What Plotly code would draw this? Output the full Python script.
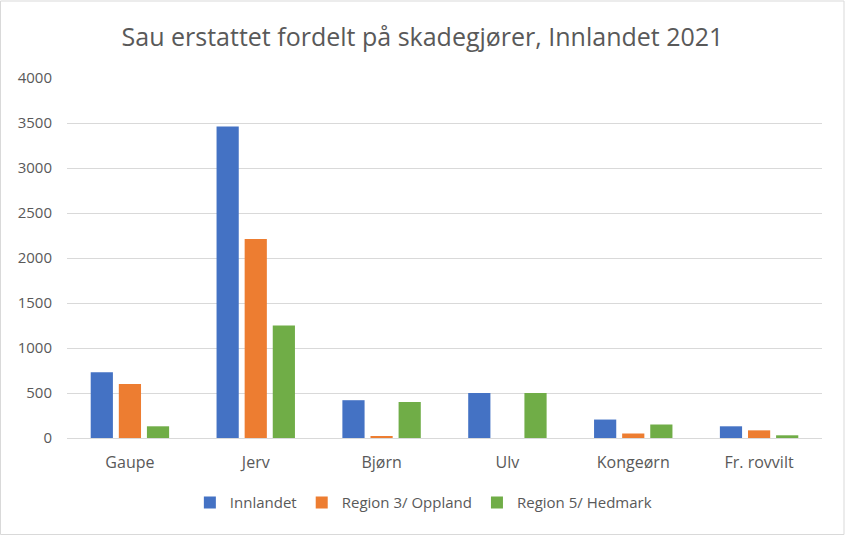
import plotly.graph_objects as go

categories = ["Gaupe", "Jerv", "Bjørn", "Ulv", "Kongeørn", "Fr. rovvilt"]
innlandet = [730, 3460, 420, 500, 205, 130]
oppland = [600, 2210, 20, 0, 50, 85]
hedmark = [130, 1250, 400, 500, 150, 30]
y_ticks = [0, 500, 1000, 1500, 2000, 2500, 3000, 3500, 4000]

series = [
    ("Innlandet", innlandet, "#4472C4"),
    ("Region 3/ Oppland", oppland, "#ED7D31"),
    ("Region 5/ Hedmark", hedmark, "#70AD47"),
]

fig = go.Figure()
for name, vals, color in series:
    fig.add_trace(go.Bar(x=categories, y=vals, name=name, marker=dict(color=color, line=dict(width=0))))

fig.update_layout(
    width=845, height=535,
    paper_bgcolor="white", plot_bgcolor="white",
    font=dict(family="Open Sans, Liberation Sans, sans-serif", size=15, color="#595959"),
    margin=dict(l=67, r=23, t=78, b=97),
    barmode="group", bargap=0.33, bargroupgap=0.21,
    title=dict(text="Sau erstattet fordelt på skadegjører, Innlandet 2021",
               x=0.5, xanchor="center", y=0.93, yanchor="middle",
               font=dict(size=25, color="#595959")),
    legend=dict(orientation="h", x=0.472, xanchor="center", y=-0.18, yanchor="middle",
                font=dict(size=15, color="#595959"), itemwidth=30),
    xaxis=dict(showgrid=False, zeroline=False, showline=True, linecolor="#d9d9d9",
               tickfont=dict(size=16), ticks="", ticklabelstandoff=10),
    yaxis=dict(range=[0, 4000], tickvals=y_ticks, showgrid=True, gridcolor="#d9d9d9",
               zeroline=False, showline=False, tickfont=dict(size=15), ticks="",
               ticklabelstandoff=14),
    shapes=[dict(type="rect", xref="paper", yref="paper",
                 x0=-66.5/755, x1=1+22/755, y0=-96.5/360, y1=1+77/360,
                 line=dict(color="#d9d9d9", width=1))],
)

fig.write_html("out.html", config={"displayModeBar": False},
               post_script="document.body.style.margin='0';")
